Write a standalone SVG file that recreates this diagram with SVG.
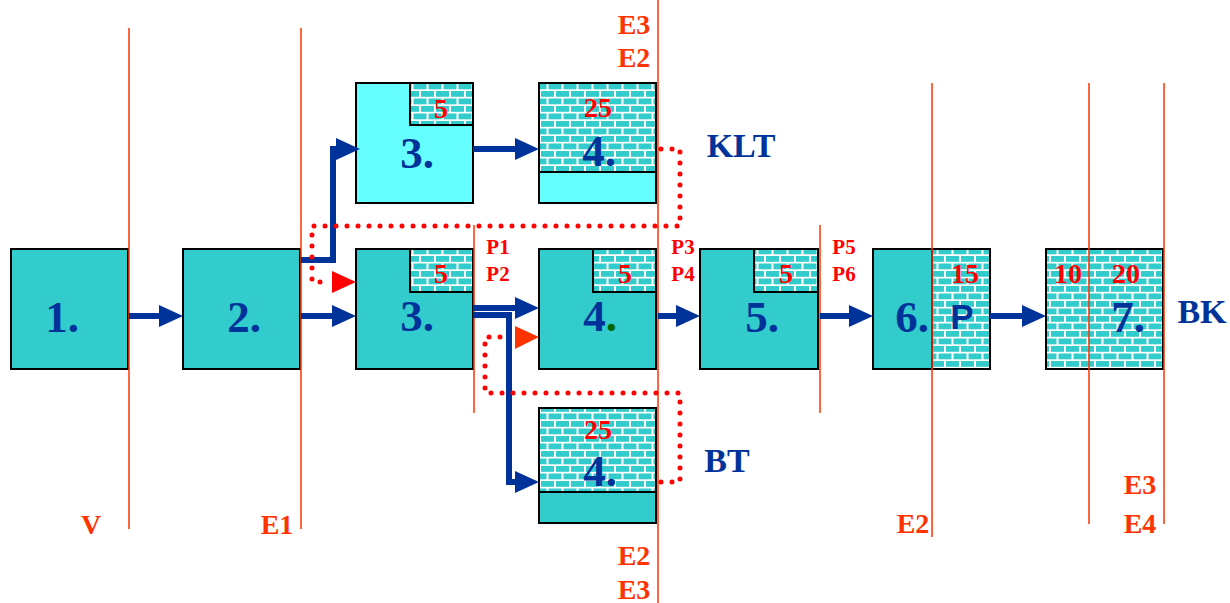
<svg xmlns="http://www.w3.org/2000/svg" width="1230" height="603" viewBox="0 0 1230 603">
<defs>
<pattern id="brick" patternUnits="userSpaceOnUse" width="15" height="15">
<rect x="0" y="0" width="15" height="15" fill="#FFFFFF"/>
<rect x="1" y="1" width="13" height="5.8" fill="#33CCCC"/>
<rect x="-6.5" y="8.5" width="13" height="5.8" fill="#33CCCC"/>
<rect x="8.5" y="8.5" width="13" height="5.8" fill="#33CCCC"/>
</pattern>
<marker id="ah" markerUnits="userSpaceOnUse" markerWidth="24" markerHeight="22" refX="14" refY="11" orient="auto">
<path d="M0,0 L24,11 L0,22 Z" fill="#003399"/>
</marker>
<style>
.box{fill:#33CCCC;stroke:#000;stroke-width:2}
.cyan{fill:#66FFFF;stroke:#000;stroke-width:2}
.brk{fill:url(#brick);stroke:#000;stroke-width:2}
.num{font-family:"Liberation Serif",serif;font-weight:bold;font-size:45px;fill:#003399;text-anchor:middle}
.val{font-family:"Liberation Serif",serif;font-weight:bold;font-size:28px;fill:#FF0000;text-anchor:middle}
.tag{font-family:"Liberation Serif",serif;font-weight:bold;font-size:21px;fill:#FF0000;text-anchor:middle}
.edge{font-family:"Liberation Serif",serif;font-weight:bold;font-size:28px;fill:#FF3300;text-anchor:middle}
.name{font-family:"Liberation Serif",serif;font-weight:bold;font-size:34px;fill:#003399;text-anchor:middle}
.vl{stroke:#FF3300;stroke-width:1.5}
.flow{stroke:#003399;stroke-width:6;fill:none;marker-end:url(#ah)}
.dots{stroke:#FF0000;stroke-width:5;stroke-linecap:round;stroke-dasharray:0 11;fill:none}
</style>
</defs>
<rect width="1230" height="603" fill="#FFFFFF"/>

<g id="n1"><rect class="box" x="11" y="249" width="117" height="120"/><text class="num" x="62" y="332">1.</text></g>
<g id="n2"><rect class="box" x="183" y="249" width="117" height="120"/><text class="num" x="244" y="332">2.</text></g>
<g id="n3top"><rect class="cyan" x="356" y="83" width="117" height="120"/><rect class="brk" x="410" y="83" width="63" height="42"/><text class="val" x="441" y="118">5</text><text class="num" x="417" y="168">3.</text></g>
<g id="n3"><rect class="box" x="356" y="249" width="117" height="120"/><rect class="brk" x="410" y="249" width="63" height="43"/><text class="val" x="441" y="283">5</text><text class="num" x="417" y="331">3.</text></g>
<g id="n4top"><rect class="brk" x="539" y="83" width="117" height="89"/><rect class="cyan" x="539" y="172" width="117" height="31"/><text class="val" x="598" y="117">25</text><text class="num" x="599" y="166">4.</text></g>
<g id="n4"><rect class="box" x="539" y="249" width="117" height="120"/><rect class="brk" x="593" y="249" width="63" height="43"/><text class="val" x="625" y="283">5</text><text class="num" x="600" y="331">4<tspan fill="#006600">.</tspan></text></g>
<g id="n4bot"><rect class="brk" x="539" y="408" width="117" height="84"/><rect class="box" x="539" y="492" width="117" height="31"/><text class="val" x="598" y="439">25</text><text class="num" x="600" y="486">4.</text></g>
<g id="n5"><rect class="box" x="700" y="249" width="118" height="120"/><rect class="brk" x="754" y="249" width="64" height="43"/><text class="val" x="786" y="283">5</text><text class="num" x="762" y="332">5.</text></g>
<g id="n6"><rect class="box" x="873" y="249" width="59" height="120"/><rect class="brk" x="932" y="249" width="58" height="120"/><text class="val" x="965" y="283">15</text><text class="num" x="912" y="332">6.</text><text x="962" y="329" font-family="Liberation Sans, sans-serif" font-weight="bold" font-size="35" fill="#003399" text-anchor="middle">P</text></g>
<g id="n7"><rect class="brk" x="1046" y="249" width="117" height="120"/><text class="val" x="1068" y="283">10</text><text class="val" x="1126" y="283">20</text><text class="num" x="1128" y="332">7.</text></g>

<g id="vlines">
<line class="vl" x1="129" y1="28" x2="129" y2="529"/>
<line class="vl" x1="301" y1="28" x2="301" y2="529"/>
<line class="vl" x1="474" y1="225" x2="474" y2="413"/>
<line class="vl" x1="658" y1="0" x2="658" y2="603"/>
<line class="vl" x1="820" y1="225" x2="820" y2="413"/>
<line class="vl" x1="932" y1="83" x2="932" y2="537"/>
<line class="vl" x1="1089" y1="83" x2="1089" y2="524"/>
<line class="vl" x1="1164" y1="83" x2="1164" y2="524"/>
</g>

<g id="connectors">
<path class="flow" d="M129,316 H173"/>
<path class="flow" d="M301,316 H346"/>
<path class="flow" d="M301,260 H333 V149 H350"/>
<path class="flow" d="M473,149 H529"/>
<path class="flow" d="M473,308 H529"/>
<path class="flow" d="M473,315 H509 V482 H529"/>
<path class="flow" d="M658,316 H690"/>
<path class="flow" d="M820,316 H863"/>
<path class="flow" d="M990,316 H1036"/>
<path class="dots" d="M661,149 H680 V226 H312 V282 H326"/>
<path class="dots" d="M661,482 H680 V393 H485 V337 H508"/>
<polygon points="332,271 356,282 332,293" fill="#FF0000"/>
<polygon points="515,326 539,337 515,349" fill="#FF3300"/>
</g>

<g id="labels">
<text class="edge" x="634" y="34">E3</text>
<text class="edge" x="634" y="67">E2</text>
<text class="edge" x="634" y="565">E2</text>
<text class="edge" x="634" y="599">E3</text>
<text class="edge" x="91" y="534">V</text>
<text class="edge" x="277" y="534">E1</text>
<text class="edge" x="913" y="533">E2</text>
<text class="edge" x="1140" y="494">E3</text>
<text class="edge" x="1140" y="533">E4</text>
<text class="tag" x="498" y="254">P1</text>
<text class="tag" x="498" y="281">P2</text>
<text class="tag" x="683" y="254">P3</text>
<text class="tag" x="683" y="281">P4</text>
<text class="tag" x="844" y="254">P5</text>
<text class="tag" x="844" y="281">P6</text>
<text class="name" x="741" y="157">KLT</text>
<text class="name" x="727" y="472">BT</text>
<text class="name" x="1202" y="323">BK</text>
</g>
</svg>
